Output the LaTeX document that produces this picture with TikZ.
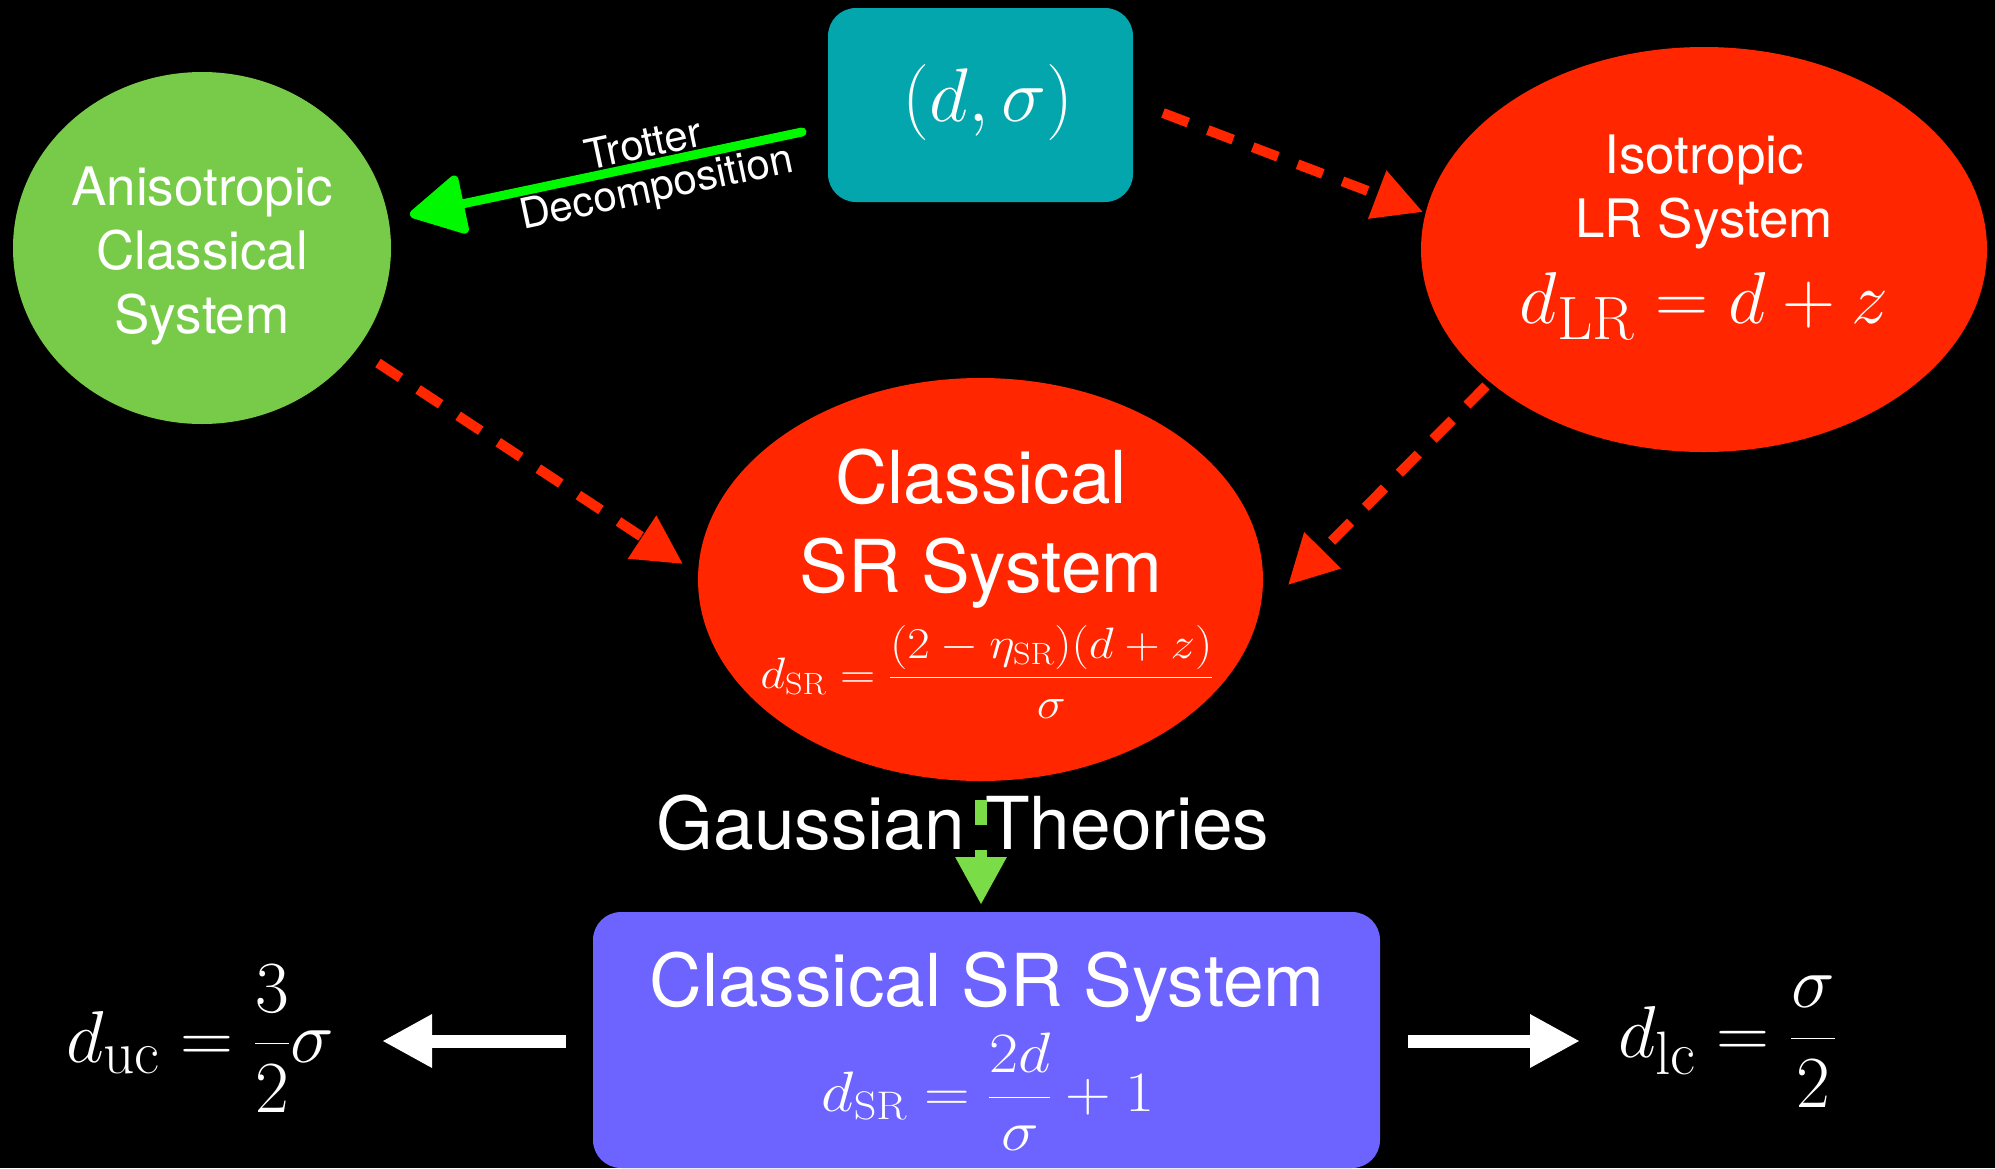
\RequirePackage{fix-cm}
\documentclass[tikz,border=0pt]{standalone}
\usepackage[no-math]{fontspec}
\setmainfont{TeX Gyre Heros}
\usetikzlibrary{shapes.geometric,arrows.meta}

% large formulas use the \Huge-style script ratio (20.74/24.88)
\DeclareMathSizes{73.5}{73.5}{61.3}{42.5}

\definecolor{boxteal}{RGB}{2,166,172}
\definecolor{hotred}{RGB}{255,38,0}
\definecolor{leafgreen}{RGB}{120,203,72}
\definecolor{brightlime}{RGB}{0,248,0}
\definecolor{arrowgreen}{RGB}{122,220,70}
\definecolor{violetbox}{RGB}{109,99,255}

\newcommand\fsz[1]{\fontsize{#1}{#1}\selectfont}
% formula images set a little wider than tall
\newcommand\widemath[1]{\scalebox{1.11}[1]{#1}}

\begin{document}
\begin{tikzpicture}[x=1pt,y=-1pt,
  lbl/.style={text=white,inner sep=0pt,anchor=base},
  blob/.style={ellipse,inner sep=0pt,draw=none},
  roundbox/.style={rectangle,rounded corners=28pt,inner sep=0pt,draw=none},
  reddash/.style={hotred,line width=10pt,dash pattern=on 27pt off 21pt,
    -{Triangle[length=49pt,width=49pt]}},
  greendash/.style={arrowgreen,line width=12pt,dash pattern=on 25pt off 25pt,
    -{Triangle[length=48pt,width=48pt]}},
  whitearrow/.style={white,line width=13pt,-{Triangle[length=50pt,width=50pt]}}]

% canvas
\fill[black] (0,0) rectangle (1995,1168);
\useasboundingbox (0,0) rectangle (1995,1168);

% shapes
\node[roundbox,fill=boxteal,minimum width=305pt,minimum height=194pt] (pair) at (980.5,105) {};
\node[blob,fill=leafgreen,minimum width=378pt,minimum height=352pt] (aniso) at (202,248) {};
\node[blob,fill=hotred,minimum width=566pt,minimum height=405pt] (iso) at (1704,249.5) {};
\node[blob,fill=hotred,minimum width=565pt,minimum height=403pt] (csr) at (980.5,579.5) {};
\node[roundbox,fill=violetbox,minimum width=787pt,minimum height=256pt] (gsr) at (986.5,1040) {};

% top box
\node[lbl,font=\fsz{76}] (pairtxt) at (988,121) {$(d,\sigma)$};

% anisotropic system
\node[lbl,font=\fsz{53}] (an1) at (202,205) {Anisotropic};
\node[lbl,font=\fsz{53}] (an2) at (202,269) {Classical};
\node[lbl,font=\fsz{53}] (an3) at (202,333) {System};

% isotropic long-range system
\node[lbl,font=\fsz{53}] (is1) at (1704,173) {Isotropic};
\node[lbl,font=\fsz{53}] (is2) at (1704,237) {LR System};
\node[lbl,font=\fsz{73.5}] (is3) at (1704,323) {$d_{\mathrm{LR}}=d+z$};

% classical short-range system
\node[lbl,font=\fsz{73}] (cs1) at (981,503) {Classical};
\node[lbl,font=\fsz{73}] (cs2) at (981,592) {SR System};
\node[lbl,font=\fsz{44}] (cs3) at (987,688)
  {\widemath{$\displaystyle d_{\mathrm{SR}}=\frac{(2-\eta_{\mathrm{SR}})(d+z)}{\sigma}$}};

% Gaussian theories
\node[lbl,font=\fsz{73}] (gauss) at (963,849) {Gaussian Theories};

% bottom box
\node[lbl,font=\fsz{73}] (gs1) at (987,1006) {Classical SR System};
\node[lbl,font=\fsz{57}] (gs2) at (988,1111)
  {\widemath{$\displaystyle d_{\mathrm{SR}}=\frac{2d}{\sigma}+1$}};

% critical dimensions
\node[lbl,font=\fsz{73.5}] (duc) at (200,1062) {$\displaystyle d_{\mathrm{uc}}=\frac{3}{2}\sigma$};
\node[lbl,font=\fsz{73.5}] (dlc) at (1727,1057) {$\displaystyle d_{\mathrm{lc}}=\frac{\sigma}{2}$};

% connector end points
\coordinate (p1s) at (1163,113);  \coordinate (p1e) at (1423,212);
\coordinate (p2s) at (378,363);   \coordinate (p2e) at (683,564);
\coordinate (p3s) at (1486,386);  \coordinate (p3e) at (1288,585);
\coordinate (gs)  at (981,800);   \coordinate (ge)  at (981,905);
\coordinate (ts)  at (802,132);   \coordinate (te)  at (410,215);
\coordinate (ls)  at (566,1041);  \coordinate (le)  at (382,1041);
\coordinate (rs)  at (1408,1041); \coordinate (re)  at (1580,1041);

% red dashed connectors
\draw[reddash] (p1s) -- (p1e);
\draw[reddash] (p2s) -- (p2e);
\draw[reddash] (p3s) -- (p3e);

% Trotter decomposition
\draw[brightlime,line width=9pt,line cap=round,
  -{Triangle[length=60pt,width=63pt,round]}] (ts) -- (te);
\node[text=white,inner sep=0pt,font=\fsz{42},rotate=12] (trot1) at (643,143) {Trotter};
\node[text=white,inner sep=0pt,font=\fsz{42},rotate=12] (trot2) at (657,190) {Decomposition};

% Gaussian arrow
\draw[greendash] (gs) -- (ge);

% white arrows
\draw[whitearrow] (ls) -- (le);
\draw[whitearrow] (rs) -- (re);
\end{tikzpicture}
\end{document}
